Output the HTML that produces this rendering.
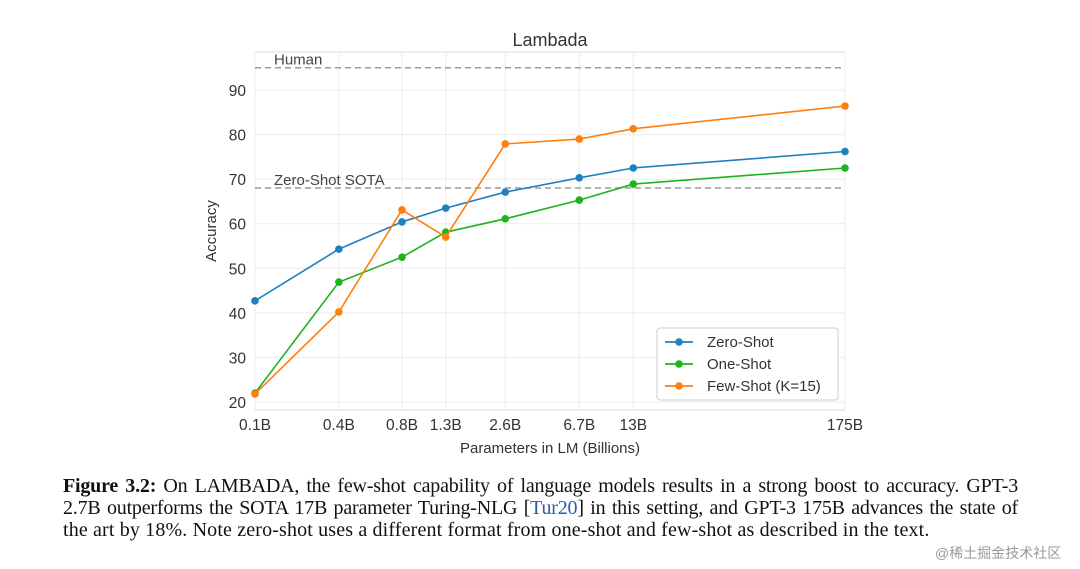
<!DOCTYPE html>
<html><head><meta charset="utf-8">
<style>
html,body{margin:0;padding:0;background:#fff;width:1080px;height:569px;overflow:hidden}
.cap{position:absolute;left:63px;width:955px;font-family:"Liberation Serif",serif;font-size:20px;color:#111;text-align:justify;text-align-last:justify;white-space:nowrap;line-height:22px}
.cap.l3{text-align-last:left;width:auto}
</style></head><body>
<svg id="chart" width="1080" height="460" style="position:absolute;left:0;top:0" font-family="Liberation Sans, sans-serif"></svg>
<div class="cap" style="top:475px;letter-spacing:-0.2px"><b>Figure 3.2:</b> On LAMBADA, the few-shot capability of language models results in a strong boost to accuracy. GPT-3</div>
<div class="cap" style="top:497px;letter-spacing:-0.2px">2.7B outperforms the SOTA 17B parameter Turing-NLG [<span style="color:#2a5db0">Tur20</span>] in this setting, and GPT-3 175B advances the state of</div>
<div class="cap l3" style="top:519px;letter-spacing:0.15px">the art by 18%. Note zero-shot uses a different format from one-shot and few-shot as described in the text.</div>
<div style="position:absolute;left:935px;top:543px;font-family:'Liberation Sans','Noto Sans CJK SC',sans-serif;font-size:14px;color:#999">@稀土掘金技术社区</div>
<script>
const categories=["0.1B","0.4B","0.8B","1.3B","2.6B","6.7B","13B","175B"];
const params=[0.125,0.35,0.76,1.3,2.7,6.7,13,175];
const zeroShot=[42.7,54.3,60.4,63.5,67.1,70.3,72.5,76.2];
const oneShot=[22.0,46.9,52.5,58.1,61.1,65.3,68.9,72.5];
const fewShot=[21.8,40.2,63.1,57.0,77.9,79.0,81.3,86.4];
const yTicks=[20,30,40,50,60,70,80,90];
const refLines=[{label:"Human",v:95},{label:"Zero-Shot SOTA",v:68}];
const NS="http://www.w3.org/2000/svg";
const svg=document.getElementById('chart');
const L=255,R=845,T=52,B=410;
const lx0=Math.log10(0.125),lx1=Math.log10(175);
const xs=p=>L+(Math.log10(p)-lx0)/(lx1-lx0)*(R-L);
const ys=v=>402-(v-20)*(402-90)/70;
function mk(tag,attrs,parent){const e=document.createElementNS(NS,tag);for(const k in attrs)e.setAttribute(k,attrs[k]);(parent||svg).appendChild(e);return e;}
const bg=mk('rect',{x:L,y:T,width:R-L,height:B-T,fill:'#fff',stroke:'#ddd','stroke-width':1});


params.forEach((p,i)=>{
 const g=mk('line',{x1:xs(p),x2:xs(p),y1:T,y2:B,stroke:'#ececec','stroke-width':1});
 
 
 const t=mk('text',{x:xs(p),y:B+20,'text-anchor':'middle','font-size':15.5,fill:'#333'});
 t.textContent=categories[i];
 
 
});
yTicks.forEach(v=>{
 const g=mk('line',{x1:L,x2:R,y1:ys(v),y2:ys(v),stroke:'#ececec','stroke-width':1});
 
 
 const t=mk('text',{x:L-9,y:ys(v)+6,'text-anchor':'end','font-size':15.5,fill:'#333'});
 t.textContent=v;
 
 
});
refLines.forEach(r=>{
 const l=mk('line',{x1:L,x2:R,y1:ys(r.v),y2:ys(r.v),stroke:'#999','stroke-width':1.5,'stroke-dasharray':'6,4'});
 
 
 const t=mk('text',{x:L+19,y:ys(r.v)-3,'font-size':15,fill:'#444'});
 t.textContent=r.label;
 
 
});
const series=[{n:'Zero-Shot',d:zeroShot,c:'#1f80c0'},{n:'One-Shot',d:oneShot,c:'#1db31d'},{n:'Few-Shot (K=15)',d:fewShot,c:'#ff7f0e'}];
series.forEach(s=>{
 const pl=mk('polyline',{points:s.d.map((v,i)=>xs(params[i])+','+ys(v)).join(' '),fill:'none',stroke:s.c,'stroke-width':1.6});
 
 
 s.d.forEach((v,i)=>{
  const c=mk('circle',{cx:xs(params[i]),cy:ys(v),r:3.8,fill:s.c});
  
  
 });
});
const lg=mk('rect',{x:657,y:328,width:181,height:72,rx:3,fill:'#fff',stroke:'#ccc'});


series.forEach((s,i)=>{
 const y=342+i*22;
 const ll=mk('line',{x1:665,x2:693,y1:y,y2:y,stroke:s.c,'stroke-width':1.8});
 
 
 const lc=mk('circle',{cx:679,cy:y,r:3.8,fill:s.c});
 
 
 const t=mk('text',{x:707,y:y+5,'font-size':15,fill:'#333'});
 t.textContent=s.n;
 
 
});
const title=mk('text',{x:(L+R)/2,y:46,'text-anchor':'middle','font-size':18,fill:'#333'});
title.textContent='Lambada';


const xt=mk('text',{x:(L+R)/2,y:453,'text-anchor':'middle','font-size':15,fill:'#333'});
xt.textContent='Parameters in LM (Billions)';


const yt=mk('text',{x:216,y:231,'text-anchor':'middle','font-size':15,fill:'#333',transform:'rotate(-90 216 231)'});
yt.textContent='Accuracy';


</script>
</body></html>
